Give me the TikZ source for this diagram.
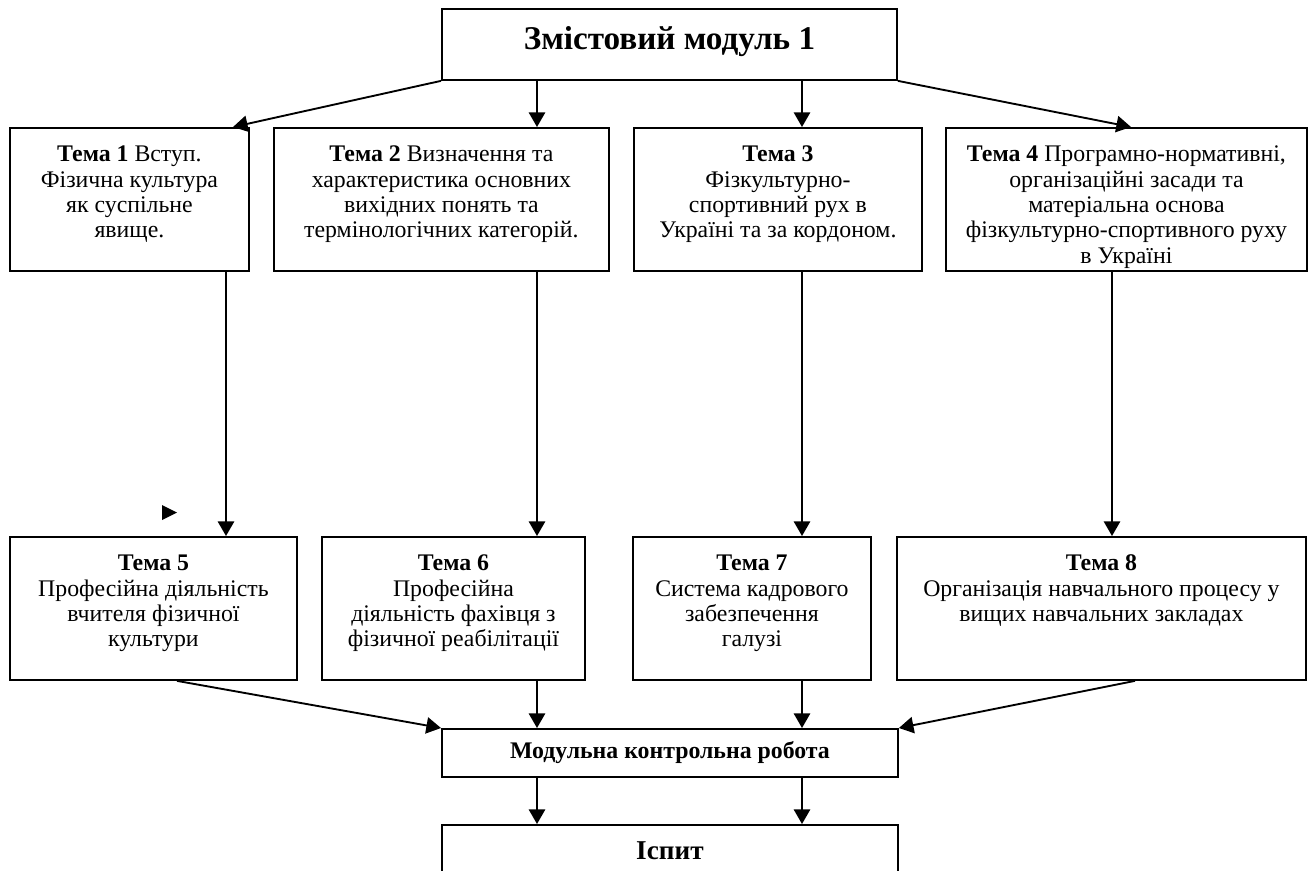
\documentclass[tikz,border=0pt]{standalone}
\usepackage{fontspec}
\setmainfont{Liberation Serif}
\usetikzlibrary{arrows.meta}
\newlength\pxu
\setlength\pxu{0.588pt}
% box text: width, number, rest
\newcommand{\tema}[3]{\parbox[c][143\pxu][t]{#1\pxu}{\centering\fontsize{14}{14.9}\selectfont\rule{0pt}{34\pxu}\textbf{Тема #2}#3}}
\begin{document}
\begin{tikzpicture}[x=\pxu, y=-\pxu,
    box/.style={draw, line width=1.1pt, inner sep=0pt, anchor=north west},
    arr/.style={draw, line width=1.1pt, -{Triangle[length=8.6pt, width=9.6pt]}}]
  \clip (0,0) rectangle (1309,870);
  \node[box] (mod) at (441,8) {\parbox[c][71\pxu][t]{455\pxu}{\centering\fontsize{19.5}{22}\selectfont\bfseries\rule{0pt}{41\pxu}Змістовий модуль 1}};
  % first row
  \node[box] (t1) at (9,127) {\tema{239}{1}{ Вступ.\\Фізична культура\\як суспільне\\явище.}};
  \node[box] (t2) at (273,127) {\tema{335}{2}{ Визначення та\\характеристика основних\\вихідних понять та\\термінологічних категорій.}};
  \node[box] (t3) at (633,127) {\tema{288}{3}{\\Фізкультурно-\\спортивний рух в\\Україні та за кордоном.}};
  \node[box] (t4) at (945,127) {\tema{361}{4}{ Програмно-нормативні,\\організаційні засади та\\матеріальна основа\\фізкультурно-спортивного руху\\в Україні}};
  % second row
  \node[box] (t5) at (9,536) {\tema{287}{5}{\\Професійна діяльність\\вчителя фізичної\\культури}};
  \node[box] (t6) at (321,536) {\tema{263}{6}{\\Професійна\\діяльність фахівця з\\фізичної реабілітації}};
  \node[box] (t7) at (632,536) {\tema{238}{7}{\\Система кадрового\\забезпечення\\галузі}};
  \node[box] (t8) at (896,536) {\tema{409}{8}{\\Організація навчального процесу у\\вищих навчальних закладах}};
  % control and exam
  \node[box] (mkr) at (441,728) {\parbox[c][48\pxu][c]{456\pxu}{\centering\fontsize{14}{16}\selectfont\bfseries Модульна контрольна робота}};
  \node[box] (isp) at (441,824) {\parbox[c][80\pxu][t]{456\pxu}{\centering\fontsize{16}{18}\selectfont\bfseries\rule{0pt}{35\pxu}Іспит}};
  \coordinate (a1) at (233,0);
  \coordinate (b1) at (226,0);
  \coordinate (c2) at (537,0);
  \coordinate (c3) at (802,0);
  \coordinate (c4) at (1112,0);
  \coordinate (a4) at (1131,0);
  \coordinate (s5) at (177,0);
  \coordinate (s8) at (1135,0);
  \path (mod.south west) edge[arr] (t1.north -| a1)
        (mod.south -| c2) edge[arr] (t2.north -| c2)
        (mod.south -| c3) edge[arr] (t3.north -| c3)
        (mod.south east) edge[arr] (t4.north -| a4);
  \path (t1.south -| b1) edge[arr] (t5.north -| b1)
        (t2.south -| c2) edge[arr] (t6.north -| c2)
        (t3.south -| c3) edge[arr] (t7.north -| c3)
        (t4.south -| c4) edge[arr] (t8.north -| c4);
  \path (t5.south -| s5) edge[arr] (mkr.north west)
        (t6.south -| c2) edge[arr] (mkr.north -| c2)
        (t7.south -| c3) edge[arr] (mkr.north -| c3)
        (t8.south -| s8) edge[arr] (mkr.north east);
  \path (mkr.south -| c2) edge[arr] (isp.north -| c2)
        (mkr.south -| c3) edge[arr] (isp.north -| c3);
  \fill (162,505) -- (177,512.5) -- (162,520) -- cycle;
\end{tikzpicture}
\end{document}
